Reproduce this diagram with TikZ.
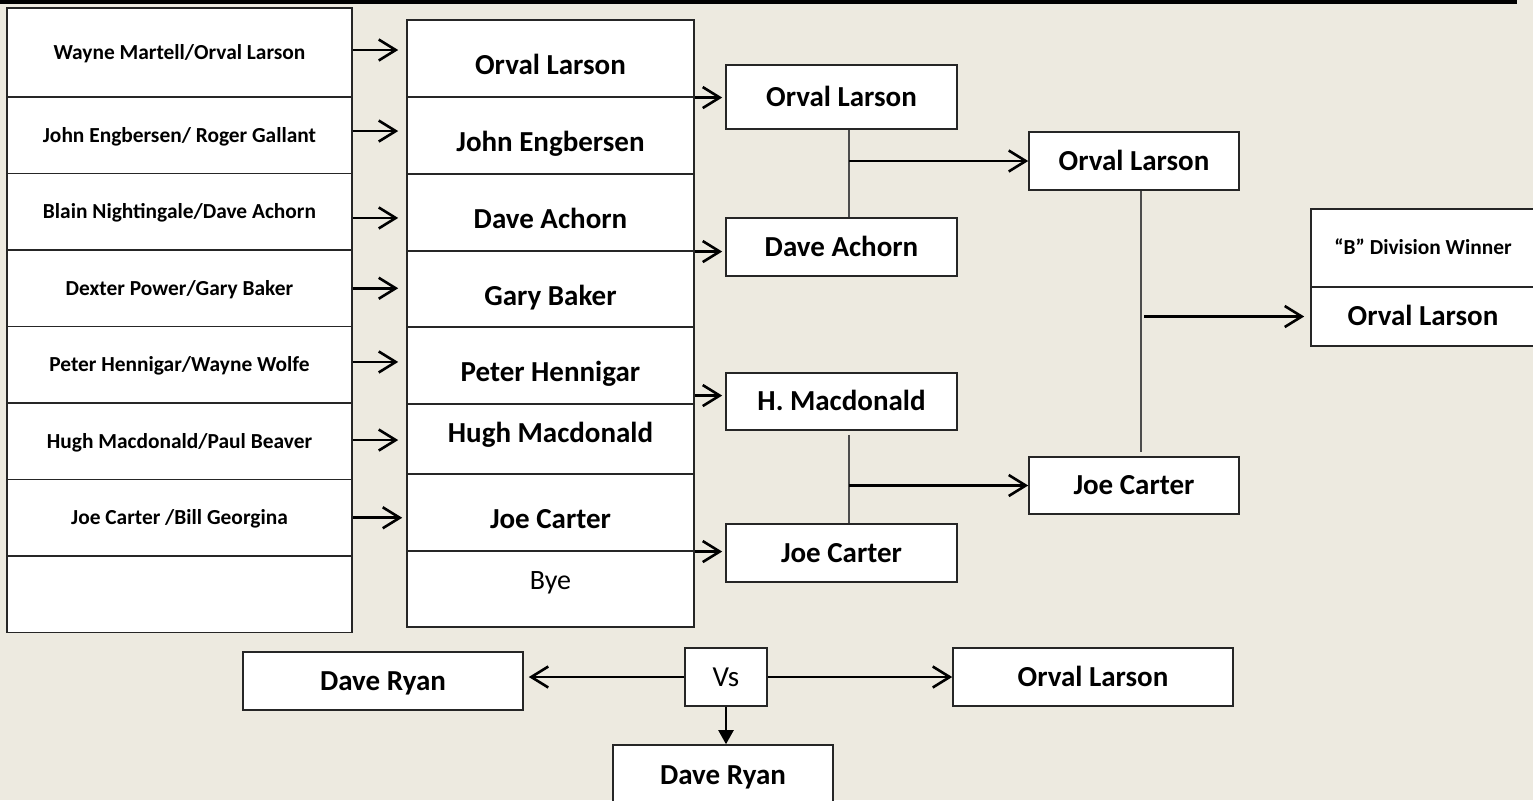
\documentclass[tikz,border=0pt]{standalone}
\usepackage{fontspec}
\setmainfont{Carlito}
\usepackage{tikz}
\usetikzlibrary{arrows.meta}
\definecolor{paper}{RGB}{237,234,224}
\tikzstyle{pair} = [rectangle, minimum width=172.5pt, minimum height=38.25pt, text centered, draw=black!85, line width=0.8pt, fill=white, font=\bfseries\fontsize{10.7}{13}\selectfont, text height=9.1pt, text depth=2.2pt]
\tikzstyle{seed} = [rectangle, minimum width=143.5pt, minimum height=38.5pt, text centered, draw=black!85, line width=0.8pt, fill=white, font=\bfseries\fontsize{14.5}{17}\selectfont, text height=19.5pt, text depth=3pt]
\tikzstyle{game} = [rectangle, minimum width=115.5pt, minimum height=29pt, text centered, draw=black!85, line width=0.8pt, fill=white, font=\bfseries\fontsize{14.5}{17}\selectfont, text height=12.3pt, text depth=2.9pt]
\tikzstyle{arrow} = [line width=1.3pt, ->, >={Straight Barb[length=8.5pt,width=10.5pt]}]
\tikzstyle{link} = [line width=0.8pt, draw=black!70]
\tikzstyle{drop} = [line width=1.1pt, -{Triangle[length=7pt,width=7.5pt]}]

\begin{document}
\begin{tikzpicture}[x=0.5pt, y=-0.5pt]
\useasboundingbox (0,0) rectangle (1533,800);
\fill [paper] (0,0) rectangle (1533,800);
\fill [black] (0,0) rectangle (1517,3.5);

\node (p1) [pair, minimum height=44.5pt] at (179.5,52.5) {Wayne Martell/Orval Larson};
\node (p2) [pair, below of=p1, node distance=41.375pt] {John Engbersen/ Roger Gallant};
\node (p3) [pair, below of=p2, node distance=38.25pt] {Blain Nightingale/Dave Achorn};
\node (p4) [pair, below of=p3, node distance=38.25pt] {Dexter Power/Gary Baker};
\node (p5) [pair, below of=p4, node distance=38.25pt] {Peter Hennigar/Wayne Wolfe};
\node (p6) [pair, below of=p5, node distance=38.25pt] {Hugh Macdonald/Paul Beaver};
\node (p7) [pair, below of=p6, node distance=38.25pt] {Joe Carter /Bill Georgina};
\node (p8) [pair, below of=p7, node distance=38.25pt] {};

\node (q2) [seed, right of=p2, node distance=185.5pt] {John Engbersen};
\node (q1) [seed, above of=q2, node distance=38.5pt] {Orval Larson};
\node (q3) [seed, below of=q2, node distance=38.5pt] {Dave Achorn};
\node (q4) [seed, below of=q3, node distance=38.25pt, minimum height=38pt] {Gary Baker};
\node (q5) [seed, below of=q4, node distance=38.25pt] {Peter Hennigar};
\node (q6) [seed, below of=q5, node distance=36.75pt, minimum height=35pt, text height=8pt, text depth=4.7pt] {Hugh Macdonald};
\node (q7) [seed, below of=q6, node distance=36.75pt] {Joe Carter};
\node (q8) [seed, below of=q7, node distance=38.25pt, minimum height=38pt, font=\fontsize{14}{17}\selectfont, text height=5.5pt, text depth=5pt] {Bye};

\node (r1) [game, minimum height=32pt] at (841.5,97) {Orval Larson};
\node (r2) [game, below of=r1, node distance=75pt] {Dave Achorn};
\node (r3) [game, below of=r2, node distance=77.25pt, minimum height=28.5pt] {H. Macdonald};
\node (r4) [game, below of=r3, node distance=75.75pt] {Joe Carter};

\node (s1) [game, minimum width=105pt] at (1134,161) {Orval Larson};
\node (s2) [game, minimum width=105pt, minimum height=28.5pt, below of=s1, node distance=162.25pt] {Joe Carter};

\node (t1) [game, minimum width=112pt, minimum height=39pt, font=\bfseries\fontsize{10.7}{13}\selectfont, text height=9.1pt, text depth=2.2pt] at (1423,248) {“B” Division Winner};
\node (t2) [game, minimum width=112pt, minimum height=29.5pt, below of=t1, node distance=34.25pt] {Orval Larson};

\node (vs) [game, minimum width=41pt, font=\fontsize{14.5}{17}\selectfont] at (726,677) {Vs};
\node (u1) [game, minimum width=140pt] at (383,681) {Dave Ryan};
\node (u2) [game, minimum width=140pt, right of=vs, node distance=183.5pt] {Orval Larson};
\node (u3) [game, minimum width=110pt, minimum height=30.5pt] at (723,775.5) {Dave Ryan};

\draw [arrow, shorten >=4pt] ([yshift=1.25pt]p1.east) -- ([yshift=1.25pt]p1.east -| q1.west);
\draw [arrow, shorten >=4pt] ([yshift=2.1pt]p2.east) -- ([yshift=2.1pt]p2.east -| q2.west);
\draw [arrow, shorten >=4pt] ([yshift=-3.1pt]p3.east) -- ([yshift=-3.1pt]p3.east -| q3.west);
\draw [arrow, shorten >=4pt] (p4) -- (p4 -| q4.west);
\draw [arrow, shorten >=4pt] ([yshift=1.4pt]p5.east) -- ([yshift=1.4pt]p5.east -| q5.west);
\draw [arrow, shorten >=4pt] ([yshift=0.6pt]p6.east) -- ([yshift=0.6pt]p6.east -| q6.west);
\draw [arrow, shorten >=2pt] (p7) -- (p7 -| q7.west);

\draw [arrow, shorten >=1.5pt] (q1.south east) -- (q1.south east -| r1.west);
\draw [arrow, shorten >=1.5pt] (q3.south east) -- (q3.south east -| r2.west);
\draw [arrow, shorten >=1.5pt] ([yshift=4.5pt]q5.south east) -- ([yshift=4.5pt]q5.south east -| r3.west);
\draw [arrow, shorten >=1.5pt] (q7.south east) -- (q7.south east -| r4.west);

\draw [link] ([xshift=3.75pt]r1.south) coordinate (j1) -- ([xshift=3.75pt]r2.north);
\draw [arrow] (j1 |- s1.west) -- (s1.west);
\draw [link] ([xshift=3.75pt,yshift=-2pt]r3.south) coordinate (j2) -- ([xshift=3.75pt]r4.north);
\draw [arrow] (j2 |- s2.west) -- (s2.west);

\draw [link] ([xshift=3.5pt]s1.south) -- ([xshift=3.5pt,yshift=2pt]s2.north);
\coordinate (j3) at ([xshift=5pt]s1.south);
\draw [arrow, shorten >=3pt] (j3 |- t2.west) -- (t2.west);

\draw [arrow, shorten >=2.5pt] (vs.west) -- (vs.west -| u1.east);
\draw [arrow] (vs.east) -- (vs.east -| u2.west);
\draw [drop] (vs.south) -- (vs.south |- u3.north);
\end{tikzpicture}
\end{document}
